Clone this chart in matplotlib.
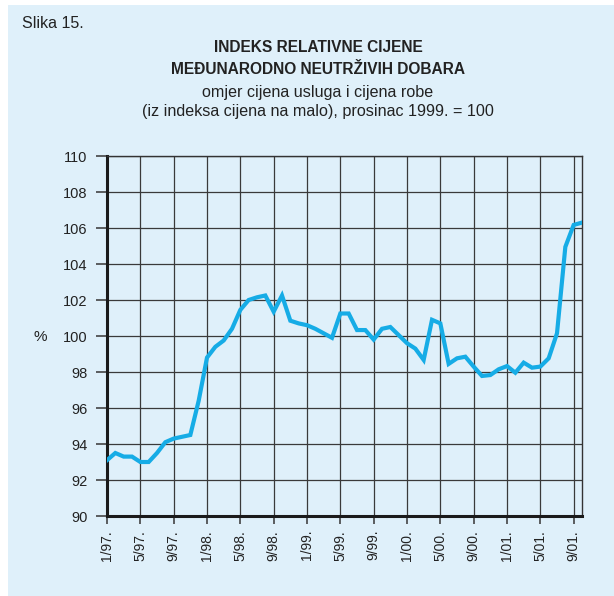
import numpy as np
import matplotlib.pyplot as plt
from matplotlib.patches import Rectangle

plt.rcParams['font.family'] = ['Liberation Sans', 'DejaVu Sans']

# monthly index, 1/97 .. 10/01
values = [93.1, 93.5, 93.3, 93.3, 93.0, 93.0, 93.5, 94.1, 94.3, 94.4,
          94.5, 96.4, 98.8, 99.4, 99.75, 100.4, 101.45, 102.0, 102.15, 102.25,
          101.35, 102.25, 100.85, 100.7, 100.6, 100.4, 100.15, 99.9, 101.25, 101.25,
          100.33, 100.33, 99.8, 100.4, 100.5, 100.05, 99.6, 99.3, 98.67, 100.9,
          100.7, 98.45, 98.76, 98.85, 98.3, 97.78, 97.83, 98.15, 98.33, 97.96,
          98.52, 98.24, 98.3, 98.76, 100.15, 104.95, 106.17, 106.3]
tick_labels = ['1/97.', '5/97.', '9/97.', '1/98.', '5/98.', '9/98.', '1/99.', '5/99.',
               '9/99.', '1/00.', '5/00.', '9/00.', '1/01.', '5/01.', '9/01.']
y_ticks = [90, 92, 94, 96, 98, 100, 102, 104, 106, 108, 110]

bg = '#dff0fa'
txt = '#222222'

fig = plt.figure(figsize=(6.14, 5.96), dpi=100)
fig.patch.set_facecolor('white')
fig.patches.append(Rectangle((8/614, 0), 1, 591/596, transform=fig.transFigure,
                             facecolor=bg, edgecolor='none', zorder=-10))

ax = fig.add_axes([107/614, 80/596, 475/614, 360/596])
ax.set_facecolor(bg)

x = np.arange(len(values))
ax.plot(x, values, color='#16ace6', linewidth=3, solid_joinstyle='miter', zorder=3)

ax.set_xlim(0, len(values) - 1)
ax.set_ylim(90, 110)
ax.set_xticks(np.arange(0, 4 * len(tick_labels), 4))
ax.set_xticklabels(tick_labels, rotation=90, fontsize=10, color=txt)
ax.set_yticks(y_ticks)
ax.set_yticklabels([str(v) for v in y_ticks], fontsize=10.5, color=txt)
ax.tick_params(axis='both', direction='out', length=6, width=1.2, color='#444444', pad=4)
ax.tick_params(axis='y', length=8, pad=6)

ax.grid(True, color='#3a3a3a', linewidth=0.9)
ax.set_axisbelow(True)
for side in ['left', 'bottom']:
    ax.spines[side].set_linewidth(2.2)
    ax.spines[side].set_color('#1a1a1a')
for side in ['right', 'top']:
    ax.spines[side].set_linewidth(1.0)
    ax.spines[side].set_color('#333333')

fig.text(22/614, 1 - 23/596, 'Slika 15.', fontsize=11.5, color=txt, va='center', ha='left')
fig.text(318/614, 1 - 48/596, 'INDEKS RELATIVNE CIJENE', fontsize=11.2, fontweight='bold',
         color=txt, ha='center', va='center')
fig.text(318/614, 1 - 70/596, 'MEĐUNARODNO NEUTRŽIVIH DOBARA', fontsize=11.2, fontweight='bold',
         color=txt, ha='center', va='center')
fig.text(318/614, 1 - 92/596, 'omjer cijena usluga i cijena robe', fontsize=11.6,
         color=txt, ha='center', va='center')
fig.text(318/614, 1 - 112/596, '(iz indeksa cijena na malo), prosinac 1999. = 100', fontsize=11.6,
         color=txt, ha='center', va='center')
fig.text(40/614, 1 - 337/596, '%', fontsize=11, color=txt, ha='center', va='center')

fig.savefig('out.png', dpi=100, facecolor=fig.get_facecolor())
